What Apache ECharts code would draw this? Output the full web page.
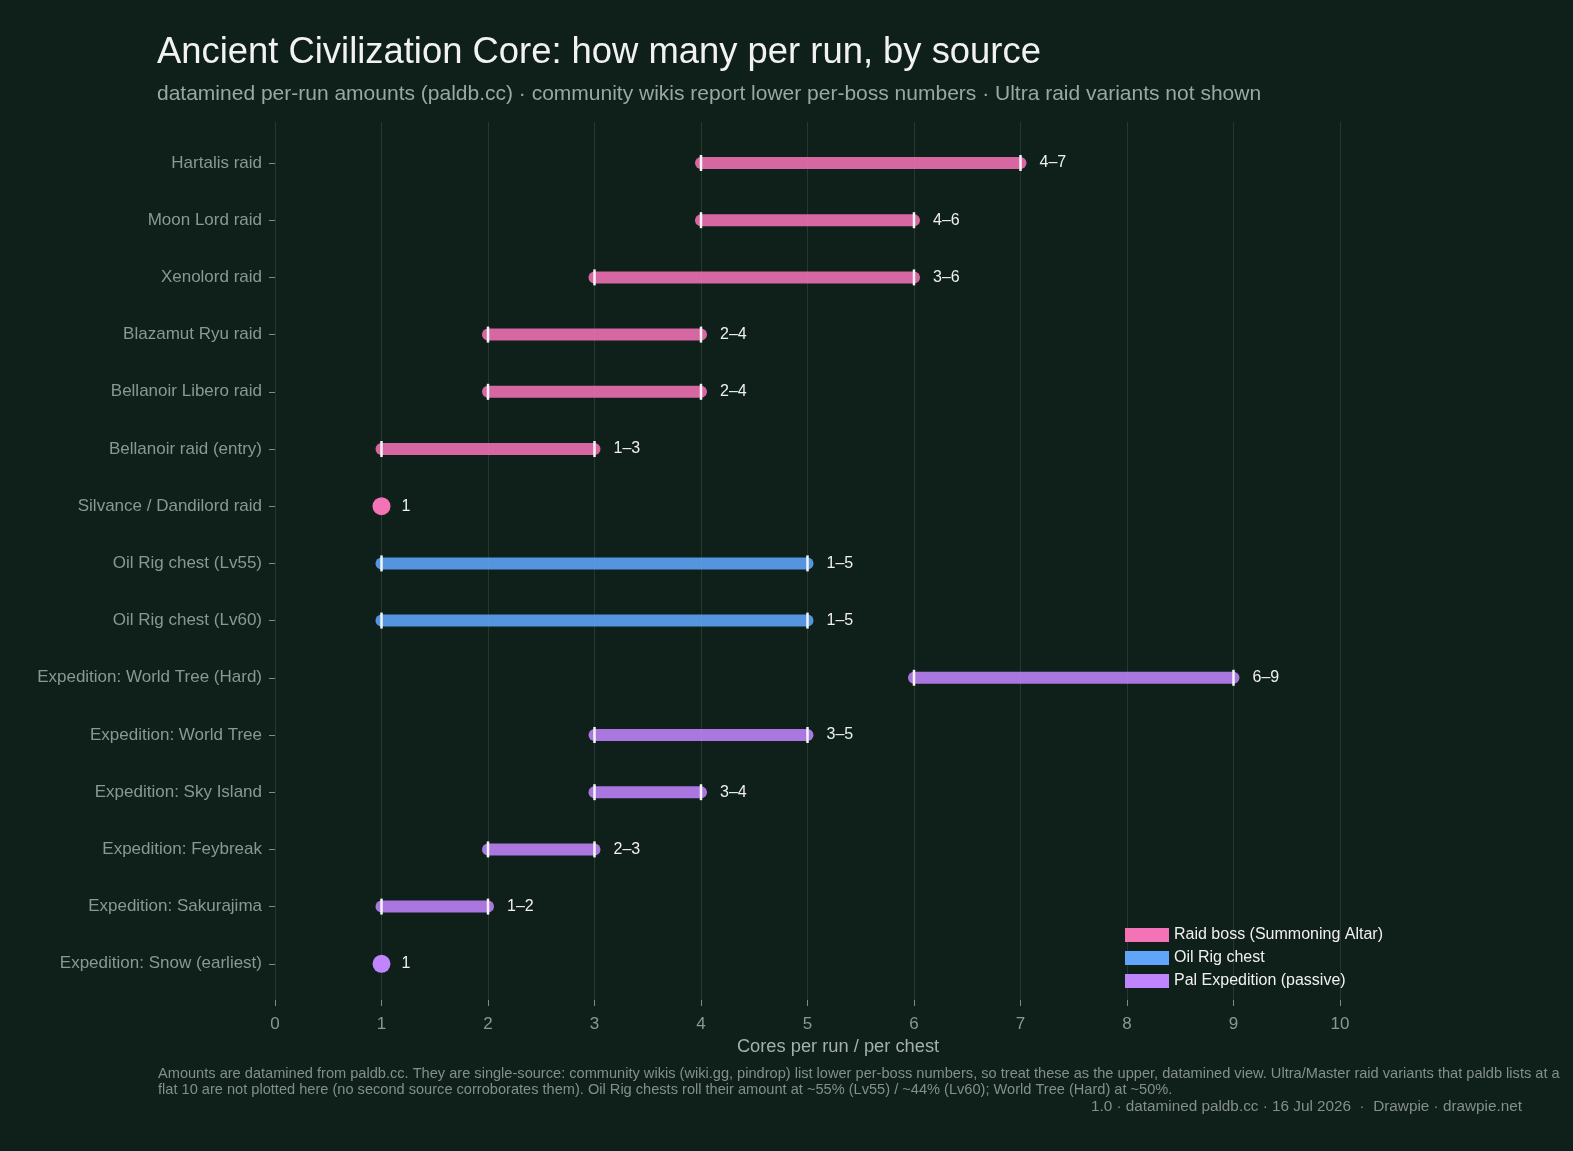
<!DOCTYPE html>
<html>
<head>
<meta charset="utf-8">
<script src="https://cdn.jsdelivr.net/npm/echarts@6/dist/echarts.min.js"></script>
<style>
  html, body { margin: 0; padding: 0; background: #0f1f19; }
  #main { width: 1573px; height: 1151px; }
</style>
</head>
<body>
<div id="main"></div>
<script>
// rows, top to bottom
var categories = [
  "Hartalis raid", "Moon Lord raid", "Xenolord raid", "Blazamut Ryu raid",
  "Bellanoir Libero raid", "Bellanoir raid (entry)", "Silvance / Dandilord raid",
  "Oil Rig chest (Lv55)", "Oil Rig chest (Lv60)",
  "Expedition: World Tree (Hard)", "Expedition: World Tree", "Expedition: Sky Island",
  "Expedition: Feybreak", "Expedition: Sakurajima", "Expedition: Snow (earliest)"
];
var lows  = [4, 4, 3, 2, 2, 1, 1, 1, 1, 6, 3, 3, 2, 1, 1];
var highs = [7, 6, 6, 4, 4, 3, 1, 5, 5, 9, 5, 4, 3, 2, 1];
var groups = [0, 0, 0, 0, 0, 0, 0, 1, 1, 2, 2, 2, 2, 2, 2];
var groupNames = ["Raid boss (Summoning Altar)", "Oil Rig chest", "Pal Expedition (passive)"];
var groupColors = ["#f472b6", "#60a5fa", "#c084fc"];
var xTicks = [0, 1, 2, 3, 4, 5, 6, 7, 8, 9, 10];

var chart = echarts.init(document.getElementById("main"));
var FONT = "'Liberation Sans', Arial, sans-serif";

function renderRange(params, api) {
  var lo = api.value(0), hi = api.value(1), idx = api.value(2);
  var p0 = api.coord([lo, idx]);
  var p1 = api.coord([hi, idx]);
  var color = api.visual("color");
  var kids = [];
  var labelX;
  if (lo === hi) {
    kids.push({ type: "circle", shape: { cx: p0[0], cy: p0[1], r: 9 }, style: { fill: color } });
    labelX = p0[0] + 20;
  } else {
    kids.push({
      type: "line",
      shape: { x1: p0[0], y1: p0[1], x2: p1[0], y2: p1[1] },
      style: { stroke: color, lineWidth: 12, lineCap: "round", opacity: 0.88 }
    });
    [p0, p1].forEach(function (p) {
      kids.push({
        type: "line",
        shape: { x1: p[0], y1: p[1] - 8, x2: p[0], y2: p[1] + 8 },
        style: { stroke: "#f4f4f4", lineWidth: 2.5 }
      });
    });
    labelX = p1[0] + 19;
  }
  kids.push({
    type: "text",
    style: {
      x: labelX, y: p0[1],
      text: lo === hi ? String(lo) : lo + "\u2013" + hi,
      fill: "#f0f0f0", font: "16px " + FONT,
      textAlign: "left", textVerticalAlign: "middle"
    }
  });
  return { type: "group", children: kids };
}

var series = groupNames.map(function (name, g) {
  var data = [];
  categories.forEach(function (c, i) {
    if (groups[i] === g) data.push([lows[i], highs[i], i]);
  });
  return {
    name: name,
    type: "custom",
    xAxisIndex: 1,
    yAxisIndex: 1,
    itemStyle: { color: groupColors[g] },
    renderItem: renderRange,
    encode: { x: [0, 1], y: 2 },
    data: data
  };
});

var option = {
  backgroundColor: "#0f1f19",
  textStyle: { fontFamily: FONT },
  animation: false,
  grid: [
    { left: 275, right: 233, top: 122, height: 878 },
    { left: 275, right: 233, top: 134.4, height: 858 }
  ],
  xAxis: [
    {
      gridIndex: 0, type: "value", min: 0, max: 10, interval: 1,
      axisLine: { show: false },
      axisTick: { show: true, length: 6, lineStyle: { color: "#7d8b85" } },
      axisLabel: {
        color: "#8a9892", fontSize: 17, margin: 16, fontFamily: FONT,
        customValues: xTicks
      },
      splitLine: { show: true, lineStyle: { color: "#26372f", width: 1 } }
    },
    { gridIndex: 1, type: "value", min: 0, max: 10, show: false }
  ],
  yAxis: [
    { gridIndex: 0, type: "value", show: false },
    {
      gridIndex: 1, type: "category", data: categories, inverse: true,
      axisLine: { show: false },
      axisTick: { show: true, length: 6, alignWithLabel: true, lineStyle: { color: "#7d8b85" } },
      axisLabel: { color: "#8a9892", fontSize: 17, margin: 13, fontFamily: FONT },
      splitLine: { show: false }
    }
  ],
  legend: {
    left: 1120, top: 922, orient: "vertical",
    icon: "rect", itemWidth: 44, itemHeight: 14, itemGap: 7,
    textStyle: { color: "#f0f0f0", fontSize: 16, fontFamily: FONT },
    data: groupNames
  },
  graphic: [
    {
      type: "text", left: 157, top: 35,
      style: { text: "Ancient Civilization Core: how many per run, by source", fill: "#f2f2f2", font: "36.4px " + FONT }
    },
    {
      type: "text", left: 157, top: 84,
      style: { text: "datamined per-run amounts (paldb.cc) \u00b7 community wikis report lower per-boss numbers \u00b7 Ultra raid variants not shown", fill: "#9aa8a1", font: "21px " + FONT }
    },
    {
      type: "text", x: 838, y: 1047,
      style: { text: "Cores per run / per chest", fill: "#a3b1aa", font: "18.3px " + FONT, textAlign: "center", textVerticalAlign: "middle" }
    },
    {
      type: "text", left: 158, top: 1066,
      style: {
        text: "Amounts are datamined from paldb.cc. They are single-source: community wikis (wiki.gg, pindrop) list lower per-boss numbers, so treat these as the upper, datamined view. Ultra/Master raid variants that paldb lists at a\nflat 10 are not plotted here (no second source corroborates them). Oil Rig chests roll their amount at ~55% (Lv55) / ~44% (Lv60); World Tree (Hard) at ~50%.",
        fill: "#848f8a", font: "14.6px " + FONT, lineHeight: 16
      }
    },
    {
      type: "text", right: 51, top: 1099,
      style: { text: "1.0 \u00b7 datamined paldb.cc \u00b7 16 Jul 2026  \u00b7  Drawpie \u00b7 drawpie.net", fill: "#848f8a", font: "15.3px " + FONT }
    }
  ],
  series: series
};

chart.setOption(option);
</script>
</body>
</html>
